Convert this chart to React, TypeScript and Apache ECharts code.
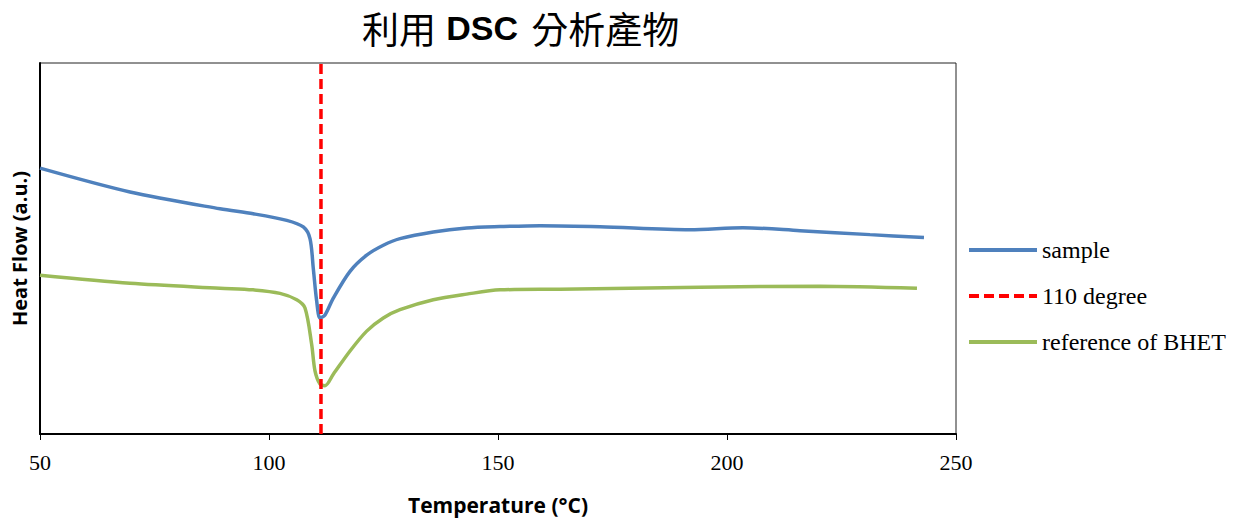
import React, { useEffect, useRef } from "react";
import * as echarts from "echarts";

const sampleT = [50, 69.65, 89.3, 96.57, 103.87, 107.49, 108.95, 109.67, 110.41, 111.14, 112.23, 114.04, 117.69, 121.33, 124.96, 128.6, 135.87, 143.17, 150.44, 159.17, 172.27, 191.92, 203.49, 215.94, 231.22, 243.01];
const sampleV = [71.66, 65.24, 60.7, 59.36, 57.57, 55.8, 52.67, 44.65, 35.83, 31.28, 32.09, 36.63, 43.85, 48.21, 50.88, 52.67, 54.47, 55.53, 55.9, 56.15, 55.88, 55.08, 55.61, 54.81, 53.74, 52.94];

const refT = [50, 69.65, 89.3, 96.51, 102.4, 106.05, 107.86, 109.32, 110.04, 111.14, 112.23, 114.04, 117.69, 121.33, 124.96, 128.6, 135.87, 143.17, 150.44, 163.54, 194.1, 220.31, 241.48];
const refV = [42.78, 40.64, 39.3, 38.85, 37.9, 36.18, 33.96, 24.14, 17.03, 13.45, 13.02, 16.12, 22.38, 27.73, 31.28, 33.5, 36.18, 37.7, 38.85, 39.04, 39.57, 39.84, 39.3];

const markT = [111.35, 111.35];
const markV = [0, 100];

const xTicks = [50, 100, 150, 200, 250];

const zip = (a: number[], b: number[]) => a.map((v, i) => [v, b[i]]);

export default function App() {
  const ref = useRef<HTMLDivElement>(null);
  useEffect(() => {
    document.body.style.margin = "0";
    const chart = echarts.init(ref.current!, undefined, { renderer: "svg" });
    chart.setOption({
      animation: false,
      backgroundColor: "#fff",
      title: {
        text: "{a|利用 }{b|DSC}{a| 分析產物}",
        left: 357,
        top: 4,
        textStyle: {
          rich: {
            a: { fontFamily: "Noto Sans CJK TC", fontWeight: "normal", fontSize: 37, color: "#000" },
            b: { fontFamily: "Liberation Sans", fontWeight: "bold", fontSize: 34, color: "#000", padding: [0, 5, 0, 2] },
          },
        },
      },
      grid: {
        left: 40,
        right: 295,
        top: 63,
        bottom: 83,
        show: true,
        borderColor: "#222",
        borderWidth: 1,
      },
      legend: {
        orient: "vertical",
        left: 962,
        top: 233,
        itemWidth: 68,
        itemHeight: 4,
        itemGap: 22,
        itemStyle: { opacity: 0 },
        lineStyle: { width: 4 },
        textStyle: { fontFamily: "Liberation Serif", fontSize: 24, color: "#000" },
        data: ["sample", "110 degree", "reference of BHET"],
      },
      xAxis: {
        type: "value",
        min: 50,
        max: 250,
        interval: 50,
        name: "Temperature (°C)",
        nameLocation: "middle",
        nameGap: 60,
        nameTextStyle: { fontFamily: "Open Sans", fontWeight: "bold", fontSize: 21, color: "#000" },
        axisLine: { show: true, onZero: false, lineStyle: { color: "#000", width: 2 } },
        axisTick: { show: true, inside: false, length: 6, lineStyle: { color: "#000", width: 1 } },
        axisLabel: {
          fontFamily: "Liberation Serif",
          fontSize: 22,
          color: "#000",
          margin: 17,
          formatter: (v: number) => (xTicks.includes(v) ? String(v) : ""),
        },
        splitLine: { show: false },
      },
      yAxis: {
        type: "value",
        min: 0,
        max: 100,
        name: "Heat Flow (a.u.)",
        nameLocation: "middle",
        nameGap: 11,
        nameTextStyle: { fontFamily: "Open Sans", fontWeight: "bold", fontSize: 20, color: "#000" },
        axisLine: { show: true, lineStyle: { color: "#000", width: 2 } },
        axisTick: { show: false },
        axisLabel: { show: false },
        splitLine: { show: false },
      },
      series: [
        {
          name: "sample",
          type: "line",
          data: zip(sampleT, sampleV),
          smooth: 0.3,
          symbol: "none",
          lineStyle: { color: "#4F81BD", width: 3.5 },
          itemStyle: { color: "#4F81BD" },
          z: 3,
        },
        {
          name: "110 degree",
          type: "line",
          data: zip(markT, markV),
          symbol: "none",
          lineStyle: { color: "#FF0000", width: 3.5, type: [10, 5] },
          itemStyle: { color: "#FF0000" },
          z: 4,
        },
        {
          name: "reference of BHET",
          type: "line",
          data: zip(refT, refV),
          smooth: 0.3,
          symbol: "none",
          lineStyle: { color: "#9BBB59", width: 3.5 },
          itemStyle: { color: "#9BBB59" },
          z: 3,
        },
      ],
    });
    return () => chart.dispose();
  }, []);
  return <div ref={ref} style={{ width: 1251, height: 520 }} />;
}
